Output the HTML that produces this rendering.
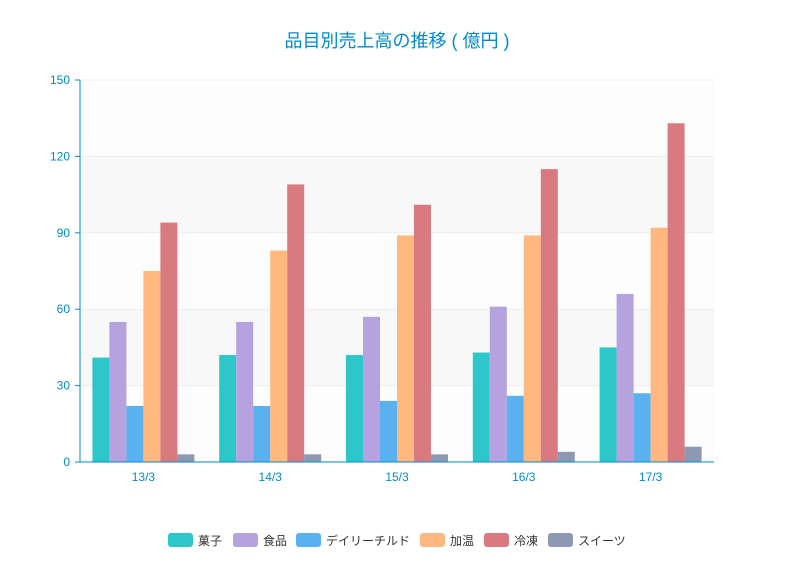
<!DOCTYPE html>
<html><head><meta charset="utf-8">
<style>
body{margin:0;background:#fff;}
svg{display:block;font-family:"Liberation Sans","Noto Sans CJK JP",sans-serif;}
</style></head>
<body>
<svg id="chart" width="794" height="562">
<text x="397" y="47" text-anchor="middle" font-size="18" fill="#008acd">品目別売上高の推移 ( 億円 )</text>
<g id="bands"></g><g id="grid"></g><g id="bars"></g><g id="axes"></g><g id="legend"></g>
</svg>
<script>
const categories=["13/3","14/3","15/3","16/3","17/3"];
const seriesNames=["菓子","食品","デイリーチルド","加温","冷凍","スイーツ"];
const s0=[41,42,42,43,45];
const s1=[55,55,57,61,66];
const s2=[22,22,24,26,27];
const s3=[75,83,89,89,92];
const s4=[94,109,101,115,133];
const s5=[3,3,3,4,6];
const yTicks=[0,30,60,90,120,150];
const series=[s0,s1,s2,s3,s4,s5];
const colors=["#2ec7c9","#b6a2de","#5ab1ef","#ffb980","#d87a80","#8d98b3"];
const NS="http://www.w3.org/2000/svg";
const L=80,R=714,T=80,B=462,yMax=150;
const y=v=>B-(v/yMax)*(B-T);
const gw=(R-L)/categories.length;
const bw=17;
const x=(ci,si)=>L+ci*gw+(gw-bw*series.length)/2+si*bw;
function mk(tag,attrs,parent){const e=document.createElementNS(NS,tag);for(const k in attrs)e.setAttribute(k,attrs[k]);document.getElementById(parent).appendChild(e);return e;}
for(let i=0;i<yTicks.length-1;i++){
  const r=mk('rect',{x:L,y:y(yTicks[i+1]),width:R-L,height:y(yTicks[i])-y(yTicks[i+1]),fill:i%2?'#f8f8f8':'#fdfdfd'},'bands');
  
  
}
yTicks.forEach(t=>{
  const l=mk('line',{x1:L,x2:R,y1:y(t),y2:y(t),stroke:'#eee'},'grid');
  
  
  const tk=mk('line',{x1:L-5,x2:L,y1:y(t),y2:y(t),stroke:'#008acd'},'axes');
  
  
  const tx=mk('text',{x:L-10,y:y(t)+4,'text-anchor':'end','font-size':12,fill:'#008acd'},'axes');
  tx.textContent=t;
  
  
});
series.forEach((s,si)=>s.forEach((v,ci)=>{
  const b=mk('rect',{x:x(ci,si),y:y(v),width:bw,height:B-y(v),fill:colors[si]},'bars');
  
  
}));
const ax=mk('line',{x1:L,x2:R,y1:B,y2:B,stroke:'#008acd'},'axes');


const ay=mk('line',{x1:L,x2:L,y1:T,y2:B,stroke:'#008acd'},'axes');


categories.forEach((c,ci)=>{
  const t=mk('text',{x:L+ci*gw+gw/2,y:B+19,'text-anchor':'middle','font-size':12,fill:'#008acd'},'axes');
  t.textContent=c;
  
  
});
const lx=[168,233,296,420,484,548];
seriesNames.forEach((n,i)=>{
  const r=mk('rect',{x:lx[i],y:533,width:25,height:14,rx:3,fill:colors[i]},'legend');
  
  
  const t=mk('text',{x:lx[i]+30,y:545,'font-size':12,fill:'#333'},'legend');
  t.textContent=n;
  
  
});
</script>
</body></html>
